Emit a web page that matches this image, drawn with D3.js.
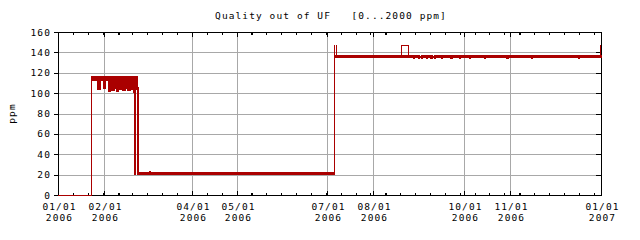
<!DOCTYPE html>
<html>
<head>
<meta charset="utf-8">
<script src="https://cdn.jsdelivr.net/npm/d3@7"></script>
<style>
  body { margin: 0; background: #fff; }
  text { font-family: "DejaVu Sans Mono", monospace; font-size: 9.5px; letter-spacing: 1.1px; fill: #000; }
</style>
</head>
<body>
<script>
// quality trace: low and high edge of the band, step after each timestamp
const times = [
    "2006-01-01T00:00", "2006-01-23T17:00", "2006-01-27T14:00", "2006-01-29T19:00",
    "2006-01-31T19:00", "2006-02-01T22:00", "2006-02-03T22:00", "2006-02-05T00:00",
    "2006-02-06T05:00", "2006-02-08T00:00", "2006-02-09T07:00", "2006-02-11T00:00",
    "2006-02-12T12:00", "2006-02-13T12:00", "2006-02-15T12:00", "2006-02-17T00:00",
    "2006-02-19T00:00", "2006-02-20T12:00", "2006-02-21T17:00", "2006-02-22T02:00",
    "2006-02-23T10:00", "2006-02-24T00:00", "2006-07-06T02:00", "2006-08-27T19:00",
    "2006-08-28T12:00", "2006-08-31T12:00", "2006-09-01T06:00", "2006-09-02T07:00",
    "2006-09-03T00:00", "2006-09-05T12:00", "2006-09-06T06:00", "2006-09-08T14:00",
    "2006-09-09T12:00", "2006-09-10T22:00", "2006-09-11T18:00", "2006-09-15T14:00",
    "2006-09-16T12:00", "2006-09-22T00:00", "2006-09-23T00:00", "2006-09-27T22:00",
    "2006-09-28T20:00", "2006-10-04T14:00", "2006-10-05T12:00", "2006-10-14T17:00",
    "2006-10-15T14:00", "2006-10-29T12:00", "2006-10-30T12:00", "2006-11-15T07:00",
    "2006-11-16T00:00", "2006-12-16T22:00", "2006-12-17T16:00", "2007-01-01T00:00"
];
const lowPpm = [
    0, 112.5, 104, 112.5,
    105, 112.5, 102, 104,
    103, 105, 102.5, 104,
    112.5, 103.5, 105, 103,
    104.5, 101, 21, 104,
    21, 21, 135.5, 134,
    135.5, 134, 135.5, 134,
    135.5, 134, 135.5, 134,
    135.5, 134, 135.5, 134,
    135.5, 134, 135.5, 134,
    135.5, 134, 135.5, 134,
    135.5, 134.5, 135.5, 134.5,
    135.5, 134.5, 135.5, 135.5
];
const highPpm = [
    0, 116.5, 116.5, 116.5,
    116.5, 116.5, 116.5, 116.5,
    116.5, 116.5, 116.5, 116.5,
    116.5, 116.5, 116.5, 116.5,
    116.5, 116.5, 116.5, 116.5,
    106, 22.5, 137, 136,
    137, 137, 136, 137,
    137, 136, 137, 137,
    136, 137, 137, 136,
    137, 137, 137, 136,
    137, 137, 137, 137,
    137, 137, 137, 137,
    137, 137, 137, 137
];

// short excursions drawn as a thin line (null breaks the line)
const peakTimes = [
    "2006-03-03T00:00", "2006-03-03T12:00", "2006-03-04T00:00", "2006-03-04T12:00", null,
    "2006-07-06T01:00", "2006-07-06T02:00", "2006-07-06T03:00", "2006-07-07T07:00", "2006-07-07T08:00", "2006-07-08T00:00", null,
    "2006-08-19T12:00", "2006-08-19T17:00", "2006-08-24T19:00", "2006-08-25T00:00", null,
    "2006-12-31T12:00", "2006-12-31T14:00", "2007-01-01T00:00"
];
const peakPpm = [
    22.5, 24, 22.5, 22.5, null,
    137, 147, 137, 147, 137, 137, null,
    137, 147, 137, 137, null,
    137, 147, 147
];

const monthLabels = ["2006-01-01", "2006-02-01", "2006-04-01", "2006-05-01", "2006-07-01",
    "2006-08-01", "2006-10-01", "2006-11-01", "2007-01-01"];
const yTicks = [0, 20, 40, 60, 80, 100, 120, 140, 160];
const yGrid = [20, 40, 60, 80, 100, 120, 140];
const boldTickDays = [40, 130, 220, 310];

const margin = { top: 32, right: 601, bottom: 195, left: 58 };
const start = new Date("2006-01-01T00:00Z");
const end = new Date("2007-01-01T00:00Z");
const red = "#aa0000";
const gridColor = "#a8a8a8";

const parse = s => new Date(s.length > 10 ? s + "Z" : s + "T00:00Z");

const x = d3.scaleUtc().domain([start, end]).range([margin.left, margin.right]);
const y = d3.scaleLinear().domain([0, 160]).range([margin.bottom, margin.top]);

const svg = d3.select("body").append("svg")
    .attr("width", 640)
    .attr("height", 240);

// grid
svg.append("g").selectAll("line")
    .data(yGrid)
    .join("line")
    .attr("x1", margin.left).attr("x2", margin.right)
    .attr("y1", d => y(d) + 0.5).attr("y2", d => y(d) + 0.5)
    .attr("stroke", gridColor)
    .attr("shape-rendering", "crispEdges");

svg.append("g").selectAll("line")
    .data(monthLabels.slice(1, -1).map(parse))
    .join("line")
    .attr("x1", d => Math.round(x(d)) + 0.5).attr("x2", d => Math.round(x(d)) + 0.5)
    .attr("y1", margin.top).attr("y2", margin.bottom)
    .attr("stroke", gridColor)
    .attr("shape-rendering", "crispEdges");

// frame
svg.append("rect")
    .attr("x", margin.left + 0.5)
    .attr("y", margin.top + 0.5)
    .attr("width", margin.right - margin.left)
    .attr("height", margin.bottom - margin.top)
    .attr("fill", "none")
    .attr("stroke", "#000")
    .attr("shape-rendering", "crispEdges");

// ticks
const minorDates = d3.range(10, 365, 10).map(d => d3.utcDay.offset(start, d));
const majorDates = monthLabels.map(parse);

function tickGroup(axis, ty) {
    const g = svg.append("g")
        .attr("transform", `translate(0,${ty})`)
        .call(axis);
    g.select(".domain").remove();
    g.selectAll("line").attr("stroke", "#000").attr("shape-rendering", "crispEdges");
    return g;
}

tickGroup(d3.axisTop(x).tickValues(minorDates).tickSize(-3).tickFormat(""), margin.top);
tickGroup(d3.axisTop(x).tickValues(majorDates).tickSize(-5).tickFormat(""), margin.top);
tickGroup(d3.axisBottom(x).tickValues(minorDates).tickSize(-3).tickFormat(""), margin.bottom + 1);
tickGroup(d3.axisBottom(x).tickValues(majorDates).tickSize(-5).tickFormat(""), margin.bottom + 1);

boldTickDays.forEach(d => {
    const px = Math.round(x(d3.utcDay.offset(start, d)));
    svg.append("rect").attr("x", px).attr("y", margin.top + 1).attr("width", 2).attr("height", 2).attr("fill", "#000");
    svg.append("rect").attr("x", px).attr("y", margin.bottom - 2).attr("width", 2).attr("height", 2).attr("fill", "#000");
});

const yAxis = svg.append("g")
    .attr("transform", `translate(${margin.left},0)`)
    .call(d3.axisLeft(y).tickValues(yTicks).tickSize(4).tickPadding(3));
yAxis.select(".domain").remove();
yAxis.selectAll("line").attr("stroke", "#000").attr("shape-rendering", "crispEdges");
yAxis.selectAll("text").attr("font-family", null).attr("font-size", null).attr("fill", "#000");

const rAxis = svg.append("g")
    .attr("transform", `translate(${margin.right},0)`)
    .call(d3.axisRight(y).tickValues(yGrid).tickSize(-5).tickFormat(""));
rAxis.select(".domain").remove();
rAxis.selectAll("line").attr("stroke", "#000").attr("shape-rendering", "crispEdges");

// x labels
const xl = svg.append("g").selectAll("text")
    .data(monthLabels)
    .join("text")
    .attr("text-anchor", "middle")
    .attr("transform", d => `translate(${Math.round(x(parse(d))) + 1.5},0)`);
xl.append("tspan").attr("x", 0).attr("y", 210)
    .text(d => d.slice(5, 7) + "/" + d.slice(8, 10));
xl.append("tspan").attr("x", 0).attr("y", 221)
    .text(d => d.slice(0, 4));

// title and unit
svg.append("text")
    .attr("x", 331)
    .attr("y", 19)
    .attr("text-anchor", "middle")
    .style("white-space", "pre")
    .text("Quality out of UF   [0...2000 ppm]");

svg.append("text")
    .attr("transform", `translate(15,${(margin.top + margin.bottom) / 2}) rotate(-90)`)
    .attr("text-anchor", "middle")
    .text("ppm");

// data band
const rows = times.map((t, i) => ({ t: parse(t), lo: lowPpm[i], hi: highPpm[i] }));

const band = d3.area().curve(d3.curveStepAfter)
    .x(d => x(d.t))
    .y0(d => y(d.lo) + 0.5)
    .y1(d => y(d.hi) + 0.5);

svg.append("path").datum(rows)
    .attr("d", band)
    .attr("fill", red)
    .attr("stroke", red)
    .attr("shape-rendering", "crispEdges");

// peaks
const peaks = peakTimes.map((t, i) => ({ t: t && parse(t), v: peakPpm[i] }));

const peakLine = d3.line().curve(d3.curveStepAfter)
    .defined(d => d.t !== null)
    .x(d => x(d.t))
    .y(d => y(d.v) + 0.5);

svg.append("path").datum(peaks)
    .attr("d", peakLine)
    .attr("fill", "none")
    .attr("stroke", red)
    .attr("shape-rendering", "crispEdges");
</script>
</body>
</html>
